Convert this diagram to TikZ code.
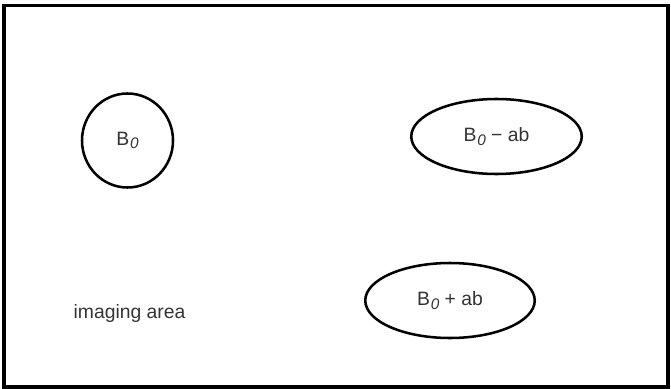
\documentclass[tikz,border=0pt]{standalone}
\usepackage{fontspec}
\setmainfont{Liberation Sans}
\usetikzlibrary{shapes.geometric}
\newcommand{\bzero}{B\kern0.5pt\raisebox{-0.35ex}{\fontsize{11.5}{12}\selectfont\itshape 0}}
\begin{document}
\begin{tikzpicture}[x=0.75pt,y=-0.75pt,
  field/.style={draw=black, line width=1.9pt, ellipse, inner sep=0pt,
    font=\fontsize{14.5}{17}\selectfont, text=black!80},
  lbl/.style={font=\fontsize{14.5}{17}\selectfont, text=black!80, inner sep=0pt}]
\useasboundingbox (0,0) rectangle (671,389);
\node[draw=black, line width=2.7pt, minimum width=664*0.75pt, minimum height=381.5*0.75pt, inner sep=0pt] (frame) at (336,196.25) {};
\node[field, minimum width=91*0.75pt, minimum height=94*0.75pt] (b0) at (127.5,140.5) {\bzero};
\node[field, minimum width=170.5*0.75pt, minimum height=75*0.75pt] (bminus) at (496.5,136.5) {\bzero\ − ab};
\node[field, minimum width=169.5*0.75pt, minimum height=75*0.75pt] (bplus) at (450,300.5) {\bzero\ + ab};
\node[lbl] (area) at (129.5,313) {imaging area};
\end{tikzpicture}
\end{document}
